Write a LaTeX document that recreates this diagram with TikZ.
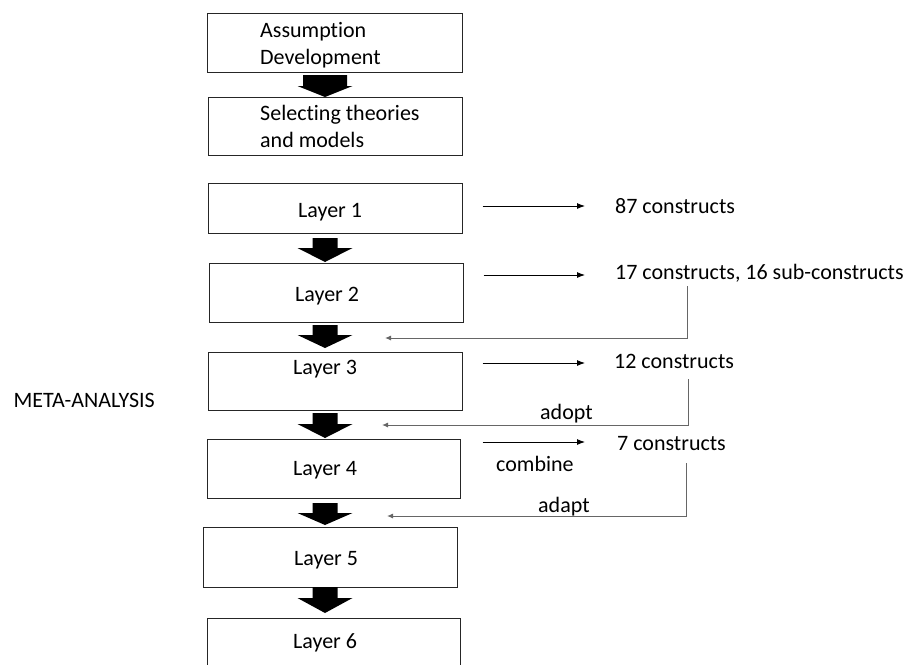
\documentclass[tikz,border=0pt]{standalone}
\usepackage{fontspec}
\setmainfont{Carlito}[Ligatures=NoCommon]
\usetikzlibrary{arrows.meta,calc}

% filled block arrow pointing down: centre x, top, neck, tip, half shaft width
\newcommand\fatarrow[5]{%
  \fill[black] (#1-#5,#2) -- (#1+#5,#2) -- (#1+#5,#3) -- (#1+27.5,#3)
    -- (#1,#4) -- (#1-27.5,#3) -- (#1-#5,#3) -- cycle;}

\begin{document}
\begin{tikzpicture}[x=1pt,y=-1pt,
  stage/.style={draw=black!85, line width=1pt, inner sep=0pt},
  txt/.style={inner sep=0pt, anchor=base west, text=black,
              font=\fontsize{22}{26.5}\selectfont},
  conn/.style={draw=black, line width=0.9pt, -{Latex[length=8pt,width=6pt]}},
  ret/.style={draw=black!60, line width=1pt, -{Latex[length=6pt,width=5pt]}}]

\useasboundingbox[fill=white] (0,0) rectangle (917,664);

% stage boxes
\node[stage, minimum width=255pt, minimum height=59pt] (B1) at (334.5,42.5) {};
\node[stage, minimum width=254pt, minimum height=58pt] (B2) at (335,126) {};
\node[stage, minimum width=254pt, minimum height=50pt] (L1) at (335,208) {};
\node[stage, minimum width=254pt, minimum height=59pt] (L2) at (336,292.5) {};
\node[stage, minimum width=254pt, minimum height=58pt] (L3) at (335,381) {};
\node[stage, minimum width=253pt, minimum height=59pt] (L4) at (333.5,468.5) {};
\node[stage, minimum width=254pt, minimum height=60pt] (L5) at (330,557) {};
\node[stage, minimum width=253pt, minimum height=72pt] (L6) at (333.5,654) {};

% box texts (two-line texts are placed by the baseline of their last line)
\node[txt, align=left] (tB1) at (260,64) {Assumption\\Development};
\node[txt, align=left] (tB2) at (260,147) {Selecting theories\\and models};
\node[txt] (tL1) at (298,217) {Layer 1};
\node[txt] (tL2) at (295,301) {Layer 2};
\node[txt] (tL3) at (293,374) {Layer 3};
\node[txt] (tL4) at (293,475) {Layer 4};
\node[txt] (tL5) at (294,565) {Layer 5};
\node[txt] (tL6) at (293,648) {Layer 6};

% block arrows between the stages
\fatarrow{325}{75}{86}{97}{22}
\fatarrow{325}{238}{248}{262}{12.5}
\fatarrow{325}{325}{335}{348}{12.5}
\fatarrow{325}{413}{424}{438}{12.5}
\fatarrow{325}{503}{513}{525}{12.5}
\fatarrow{325}{587}{598}{613}{12.5}

% construct counts
\node[txt] (C1) at (615,213) {87 constructs};
\node[txt] (C2) at (615,279) {17 constructs, 16 sub-constructs};
\node[txt] (C3) at (614,368) {12 constructs};
\node[txt] (C4) at (617,450) {7 constructs};

\node[txt, anchor=base east] (meta) at (155,407) {META-ANALYSIS};
\node[txt] (adopt) at (540,419) {adopt};
\node[txt] (combine) at (496,471) {combine};
\node[txt] (adapt) at (538,512) {adapt};

% arrows to the construct counts
\draw[conn] ($(L1.east)+(20,-2)$) -- ($(C1.west |- L1.east)+(-30,-2)$);
\draw[conn] ($(L2.east |- 0,275)+(20,0)$) -- ($(C2.west |- 0,275)+(-30,0)$);
\draw[conn] ($(L3.east |- 0,363)+(20,0)$) -- ($(C3.west |- 0,363)+(-29,0)$);
\draw[conn] ($(L4.east |- 0,442)+(22,0)$) -- ($(C4.west |- 0,442)+(-32,0)$);

% feedback lines into the next stage
\coordinate (r1a) at (687,286);
\coordinate (r1b) at (385,338);
\coordinate (r2a) at (688,379);
\coordinate (r2b) at (382,425);
\coordinate (r3a) at (686,463);
\coordinate (r3b) at (387,516);
\draw[ret] (r1a) |- (r1b);
\draw[ret] (r2a) |- (r2b);
\draw[ret] (r3a) |- (r3b);

\end{tikzpicture}
\end{document}
